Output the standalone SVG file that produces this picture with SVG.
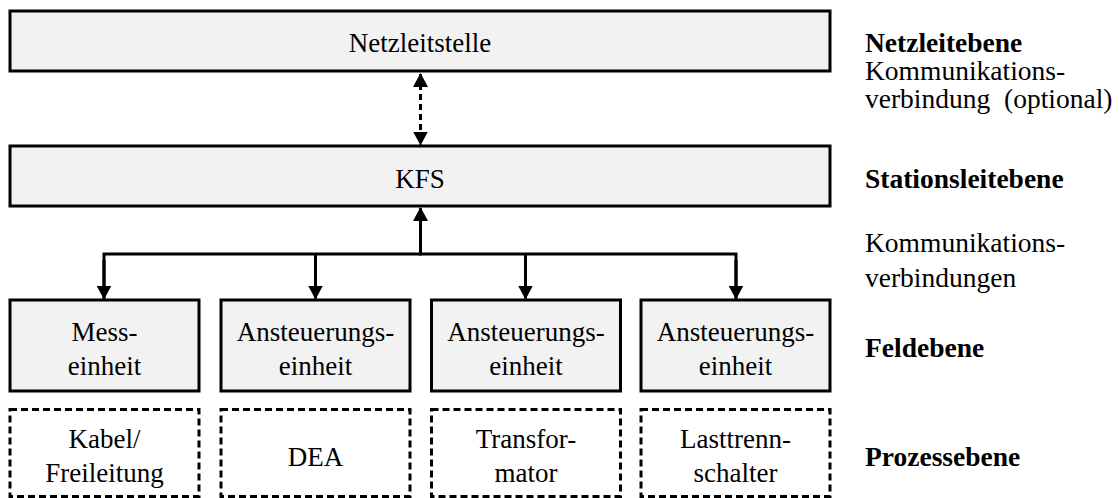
<svg xmlns="http://www.w3.org/2000/svg" width="1119" height="498" viewBox="0 0 1119 498" font-family="Liberation Serif, serif" font-size="27">
  <style>
    .box { fill: #f2f2f2; stroke: #000; stroke-width: 3; }
    .dbox { fill: #fff; stroke: #000; stroke-width: 3; stroke-dasharray: 7 4; }
    .t { fill: #000; text-anchor: middle; }
    .lbl { fill: #000; font-size: 27.5px; }
    .lvl { font-weight: bold; }
    .wire { fill: none; stroke: #000; stroke-width: 3; }
    .dash { stroke-dasharray: 6 4; }
  </style>
  <defs>
    <marker id="head" viewBox="0 0 14 15" refX="13" refY="7.5" markerWidth="14" markerHeight="15" markerUnits="userSpaceOnUse" orient="auto-start-reverse">
      <path d="M0,0 L14,7.5 L0,15 Z" fill="#000"/>
    </marker>
  </defs>

  <rect width="1119" height="498" fill="#fff"/>

  <!-- control centre -->
  <g id="netzleitstelle">
    <rect class="box" x="10" y="11" width="820" height="60"/>
    <text class="t" x="420" y="52">Netzleitstelle</text>
  </g>

  <!-- substation unit -->
  <g id="kfs">
    <rect class="box" x="10" y="146" width="820" height="60"/>
    <text class="t" x="420" y="188">KFS</text>
  </g>

  <!-- field level units -->
  <g id="messeinheit">
    <rect class="box" x="10" y="300" width="189" height="91"/>
    <text class="t" x="104.5" y="341">Mess-</text>
    <text class="t" x="104.5" y="375">einheit</text>
  </g>
  <g id="ansteuerung1">
    <rect class="box" x="221" y="300" width="189" height="91"/>
    <text class="t" x="315.5" y="341">Ansteuerungs-</text>
    <text class="t" x="315.5" y="375">einheit</text>
  </g>
  <g id="ansteuerung2">
    <rect class="box" x="431.5" y="300" width="189" height="91"/>
    <text class="t" x="526" y="341">Ansteuerungs-</text>
    <text class="t" x="526" y="375">einheit</text>
  </g>
  <g id="ansteuerung3">
    <rect class="box" x="641" y="300" width="189" height="91"/>
    <text class="t" x="735.5" y="341">Ansteuerungs-</text>
    <text class="t" x="735.5" y="375">einheit</text>
  </g>

  <!-- process level equipment -->
  <g id="kabel">
    <rect class="dbox" x="10" y="409.5" width="189" height="87"/>
    <text class="t" x="104.5" y="448">Kabel/</text>
    <text class="t" x="104.5" y="482">Freileitung</text>
  </g>
  <g id="dea">
    <rect class="dbox" x="221" y="409.5" width="189" height="87"/>
    <text class="t" x="315.5" y="466">DEA</text>
  </g>
  <g id="transformator">
    <rect class="dbox" x="431.5" y="409.5" width="189" height="87"/>
    <text class="t" x="526" y="448">Transfor-</text>
    <text class="t" x="526" y="482">mator</text>
  </g>
  <g id="lasttrennschalter">
    <rect class="dbox" x="641" y="409.5" width="189" height="87"/>
    <text class="t" x="735.5" y="448">Lasttrenn-</text>
    <text class="t" x="735.5" y="482">schalter</text>
  </g>

  <!-- connectors -->
  <g id="connectors">
    <line class="wire dash" x1="420.5" y1="74" x2="420.5" y2="144.5" marker-start="url(#head)" marker-end="url(#head)"/>
    <line class="wire" x1="420.5" y1="255.5" x2="420.5" y2="208" marker-end="url(#head)"/>
    <path class="wire" d="M104,298.5 V254 H736 V298.5"/>
    <line class="wire" x1="104" y1="260" x2="104" y2="298.5" marker-end="url(#head)"/>
    <line class="wire" x1="315.5" y1="254" x2="315.5" y2="298.5" marker-end="url(#head)"/>
    <line class="wire" x1="525.5" y1="254" x2="525.5" y2="298.5" marker-end="url(#head)"/>
    <line class="wire" x1="736" y1="260" x2="736" y2="298.5" marker-end="url(#head)"/>
  </g>

  <!-- level captions -->
  <g id="levels">
    <text class="lbl lvl" x="865" y="52">Netzleitebene</text>
    <text class="lbl" x="865" y="80">Kommunikations-</text>
    <text class="lbl" x="865" y="108" xml:space="preserve">verbindung  (optional)</text>
    <text class="lbl lvl" x="865" y="188">Stationsleitebene</text>
    <text class="lbl" x="865" y="252">Kommunikations-</text>
    <text class="lbl" x="865" y="287">verbindungen</text>
    <text class="lbl lvl" x="865" y="357">Feldebene</text>
    <text class="lbl lvl" x="865" y="466">Prozessebene</text>
  </g>
</svg>
